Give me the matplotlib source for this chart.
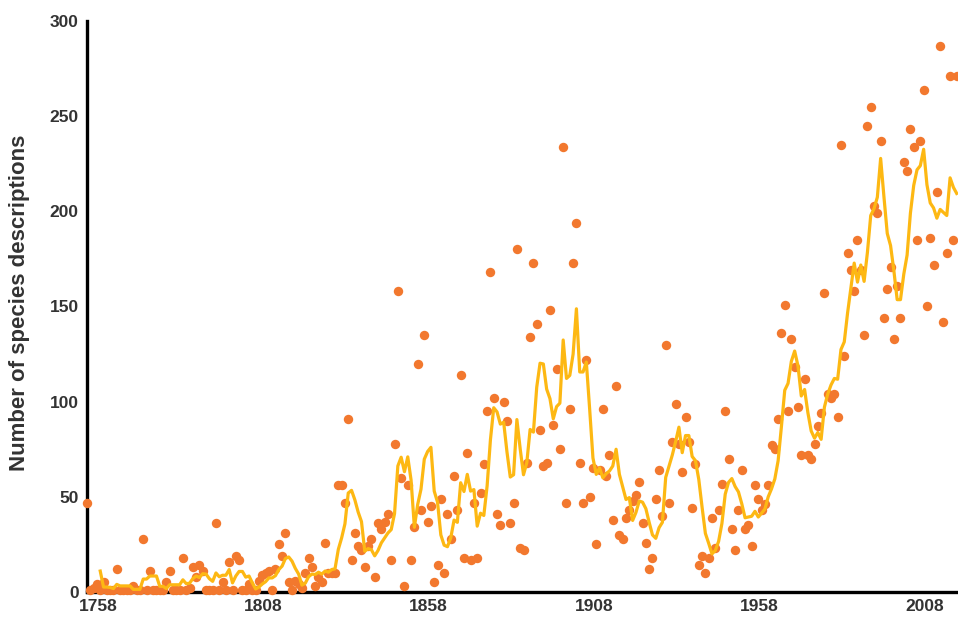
import numpy as np
import pandas as pd
import matplotlib
matplotlib.use("Agg")
import matplotlib.pyplot as plt
from matplotlib.transforms import ScaledTranslation

plt.rcParams['font.family'] = ['Liberation Sans', 'DejaVu Sans']

first_year = 1758
descriptions = [
    # 1758-1837
    47, 1, 2, 4, 1, 5, 1, 1, 1, 12,
    1, 1, 1, 1, 3, 1, 1, 28, 1, 11,
    1, 1, 1, 1, 5, 11, 1, 1, 1, 18,
    1, 2, 13, 8, 14, 11, 1, 1, 1, 36,
    1, 5, 1, 16, 1, 19, 17, 1, 1, 4,
    1, 1, 6, 9, 10, 11, 1, 12, 25, 19,
    31, 5, 1, 6, 4, 2, 10, 18, 13, 3,
    8, 5, 26, 10, 10, 10, 56, 56, 47, 91,
    # 1838-1879
    17, 31, 24, 22, 13, 24, 28, 8, 36, 33,
    37, 41, 17, 78, 158, 60, 3, 56, 17, 34,
    120, 43, 135, 37, 45, 5, 14, 49, 10, 41,
    28, 61, 43, 114, 18, 73, 17, 47, 18, 52,
    67, 95,
    # 1880-1910
    168, 102, 41, 35, 100, 90, 36, 47, 180, 23,
    22, 68, 134, 173, 141, 85, 66, 68, 148, 88,
    117, 75, 234, 47, 96, 173, 194, 68, 47, 122,
    50,
    # 1911-1960
    65, 25, 64, 96, 61, 72, 38, 108, 30, 28,
    39, 43, 48, 51, 58, 36, 26, 12, 18, 49,
    64, 40, 130, 47, 79, 99, 78, 63, 92, 79,
    44, 67, 14, 19, 10, 18, 39, 23, 43, 57,
    95, 70, 33, 22, 43, 64, 33, 35, 24, 56,
    # 1961-1985
    49, 43, 46, 56, 77, 75, 91, 136, 151, 95,
    133, 118, 97, 72, 112, 72, 70, 78, 87, 94,
    157, 104, 102, 104, 92,
    # 1986-2021
    235, 124, 178, 169, 158,
    185, 169, 135, 245, 255,
    203, 199, 237, 144, 159,
    171, 133, 161, 144, 226,
    221, 243, 234, 185, 237,
    264, 150, 186, 172, 210,
    287, 142, 178, 271, 185, 271,
]
years = np.arange(first_year, first_year + len(descriptions))
tick_years = [1758, 1808, 1858, 1908, 1958, 2008]
y_ticks = [0, 50, 100, 150, 200, 250, 300]
window = 5

series = pd.Series(descriptions, index=years, dtype=float)
moving_avg = series.rolling(window).mean()

W, H = 958, 618
fig = plt.figure(figsize=(W / 100, H / 100), dpi=100)
ax = fig.add_axes([87 / W, 26 / H, 871 / W, 571 / H])

px_per_year = 869.7 / (len(descriptions) - 1)
ax.set_xlim(first_year, first_year + 871 / px_per_year)
ax.set_ylim(0, 300)

ax.scatter(years, series.values, s=46, color='#F2782E', linewidths=0,
           zorder=3, clip_on=False)
ax.plot(years, moving_avg.values, color='#FDB813', lw=2.3, zorder=4,
        clip_on=False, solid_joinstyle='round')

for s in ['top', 'right']:
    ax.spines[s].set_visible(False)
for s in ['left', 'bottom']:
    ax.spines[s].set_linewidth(2.4)
    ax.spines[s].set_color('black')
    ax.spines[s].set_zorder(2)

ax.set_xticks(tick_years)
ax.set_xticklabels([str(t) for t in tick_years])
ax.set_yticks(y_ticks)
ax.set_yticklabels([str(t) for t in y_ticks])
ax.tick_params(axis='both', length=0, labelsize=12.5, labelcolor='#333333')
ax.tick_params(axis='x', pad=5)
ax.tick_params(axis='y', pad=6)
offset = ScaledTranslation(11 / 100, 0, fig.dpi_scale_trans)
for lab in ax.get_xticklabels():
    lab.set_fontweight('bold')
    lab.set_transform(lab.get_transform() + offset)
for lab in ax.get_yticklabels():
    lab.set_fontweight('bold')

fig.text(20 / W, 1 - 303 / H, 'Number of species descriptions', rotation=90,
         ha='center', va='center', fontsize=16, fontweight='bold',
         color='#333333')

fig.savefig('out.png', dpi=100)
